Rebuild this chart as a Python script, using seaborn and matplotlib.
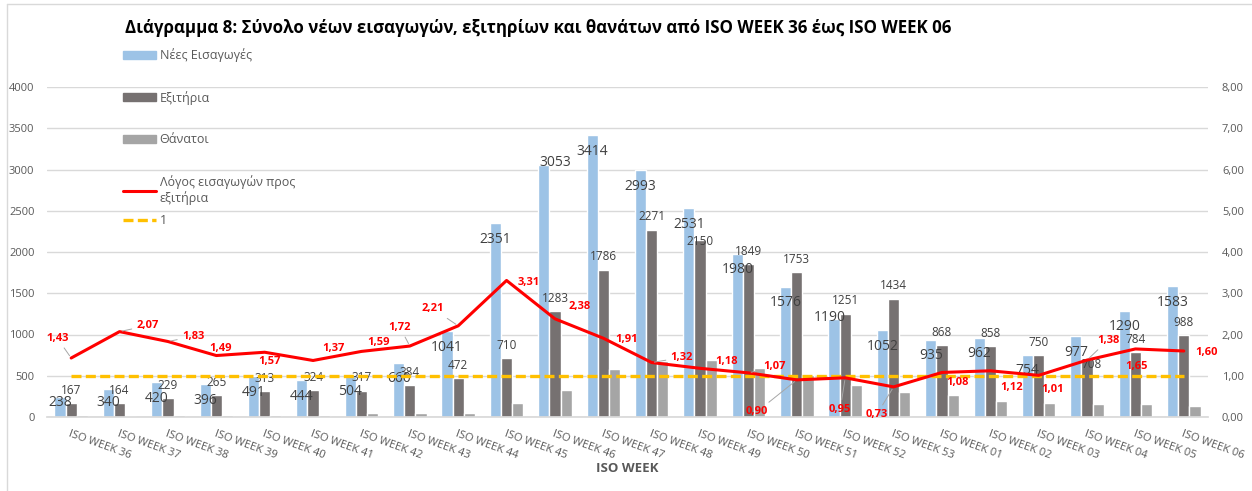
import numpy as np
import pandas as pd
import matplotlib

matplotlib.use("Agg")
import matplotlib.pyplot as plt
import seaborn as sns
from matplotlib.lines import Line2D
from matplotlib.patches import Patch
from matplotlib.ticker import FuncFormatter, MultipleLocator

# Data
weeks = [
    "ISO WEEK 36", "ISO WEEK 37", "ISO WEEK 38", "ISO WEEK 39", "ISO WEEK 40",
    "ISO WEEK 41", "ISO WEEK 42", "ISO WEEK 43", "ISO WEEK 44", "ISO WEEK 45",
    "ISO WEEK 46", "ISO WEEK 47", "ISO WEEK 48", "ISO WEEK 49", "ISO WEEK 50",
    "ISO WEEK 51", "ISO WEEK 52", "ISO WEEK 53", "ISO WEEK 01", "ISO WEEK 02",
    "ISO WEEK 03", "ISO WEEK 04", "ISO WEEK 05", "ISO WEEK 06",
]
admissions = [238, 340, 420, 396, 491, 444, 504, 660, 1041, 2351, 3053, 3414,
              2993, 2531, 1980, 1576, 1190, 1052, 935, 962, 754, 977, 1290, 1583]
discharges = [167, 164, 229, 265, 313, 324, 317, 384, 472, 710, 1283, 1786,
              2271, 2150, 1849, 1753, 1251, 1434, 868, 858, 750, 708, 784, 988]
deaths = [20, 10, 30, 30, 20, 30, 50, 50, 50, 170, 330, 585,
          680, 695, 600, 505, 385, 305, 270, 190, 170, 155, 155, 135]
ratio = [1.43, 2.07, 1.83, 1.49, 1.57, 1.37, 1.59, 1.72, 2.21, 3.31, 2.38, 1.91,
         1.32, 1.18, 1.07, 0.90, 0.95, 0.73, 1.08, 1.12, 1.01, 1.38, 1.65, 1.60]
ref_level = [1.0] * len(weeks)

series_names = ["Νέες Εισαγωγές", "Εξιτήρια", "Θάνατοι"]
ratio_name = "Λόγος εισαγωγών προς\nεξιτήρια"
ref_name = "1"

# label offsets (pixels) for the ratio labels, and which ones get a leader line
ratio_offsets = [(-14, 20), (28, 6), (25, 5), (4, 7), (5, -9), (20, 12), (17, 9),
                 (-10, 19), (-25, 17), (22, -2), (25, 12), (23, -1), (30, 5),
                 (26, 7), (26, 6), (-40, -32), (-5, -32), (-17, -28), (16, -10),
                 (21, -17), (14, -14), (21, 20), (1, -18), (23, -1)]
ratio_leaders = {0, 1, 2, 7, 8, 12, 14, 15, 16, 17, 21}

colors = ["#9DC3E6", "#767171", "#A5A5A5"]
text_gray = "#595959"
grid_gray = "#D9D9D9"

sns.set_theme(style="white")
plt.rcParams["font.family"] = ["Open Sans", "DejaVu Sans"]

df = pd.DataFrame({
    "week": weeks * 3,
    "series": [series_names[0]] * len(weeks) + [series_names[1]] * len(weeks)
    + [series_names[2]] * len(weeks),
    "value": admissions + discharges + deaths,
})

fig = plt.figure(figsize=(12.52, 4.91), dpi=100)
ax = fig.add_axes([47 / 1252, 74 / 491, 1161 / 1252, 330 / 491])

sns.barplot(data=df, x="week", y="value", hue="series", palette=colors,
            width=0.69, saturation=1, legend=False, ax=ax)

ax.set_xlim(-0.5, len(weeks) - 0.5)
ax.set_ylim(0, 4000)
ax.yaxis.set_major_locator(MultipleLocator(500))
ax.yaxis.grid(True, color=grid_gray, linewidth=1)
ax.set_axisbelow(True)
for s in ["left", "right", "top"]:
    ax.spines[s].set_visible(False)
ax.spines["bottom"].set_color(grid_gray)
ax.tick_params(axis="y", length=0, pad=9, labelsize=8, labelcolor=text_gray)
ax.tick_params(axis="x", length=0, pad=8, labelsize=8, labelcolor=text_gray)
ax.set_xticks(range(len(weeks)))
ax.set_xticklabels(weeks, rotation=-20, ha="left", va="top", rotation_mode="anchor")
ax.set_ylabel("")
ax.set_xlabel("ISO WEEK", fontsize=9.5, fontweight="bold", color=text_gray, labelpad=1)

# bar value labels
adm_bars, dis_bars, _ = ax.containers
adm_special = {10: (11, 3), 16: (-4, 1)}
for i, (bar, v) in enumerate(zip(adm_bars, admissions)):
    xc = bar.get_x() + bar.get_width() / 2
    dx, dy = adm_special.get(i, (0, -16))
    y = v
    if i not in adm_special and v - 195 < 170:
        y, dy = 170, 0
    ax.annotate(str(v), (xc, y), xytext=(dx, dy), textcoords="offset pixels",
                ha="center", va="center", fontsize=10, color="#404040")

dis_special = {13: (0, -2), 21: (5, -6)}
for i, (bar, v) in enumerate(zip(dis_bars, discharges)):
    xc = bar.get_x() + bar.get_width() / 2
    dx, dy = dis_special.get(i, (0, 13))
    ax.annotate(str(v), (xc, v), xytext=(dx, dy), textcoords="offset pixels",
                ha="center", va="center", fontsize=8.5, color="#404040")

# secondary axis: ratio + reference line
ax2 = ax.twinx()
idx = np.arange(len(weeks))
sns.lineplot(x=idx, y=ref_level, ax=ax2, color="#FFC000", linewidth=2.4,
             linestyle=(0, (3, 1.3)))
sns.lineplot(x=idx, y=ratio, ax=ax2, color="#FF0000", linewidth=2.2)
ax2.set_ylim(0, 8)
ax2.set_xlim(-0.5, len(weeks) - 0.5)
ax2.yaxis.set_major_locator(MultipleLocator(1))
ax2.yaxis.set_major_formatter(FuncFormatter(lambda v, p: f"{v:.2f}".replace(".", ",")))
for s in ["left", "right", "top", "bottom"]:
    ax2.spines[s].set_visible(False)
ax2.tick_params(axis="y", length=0, pad=10, labelsize=8, labelcolor=text_gray)

for i, v in enumerate(ratio):
    dx, dy = ratio_offsets[i]
    arrow = None
    if i in ratio_leaders:
        arrow = dict(arrowstyle="-", color="#A6A6A6", lw=0.7, shrinkA=1, shrinkB=2)
    ax2.annotate(f"{v:.2f}".replace(".", ","), (i, v), xytext=(dx, dy),
                 textcoords="offset pixels", ha="center", va="center",
                 fontsize=8, fontweight="bold", color="#FF0000", arrowprops=arrow)

# legend: bar entries, then line entries
bar_handles = [Patch(color=c) for c in colors]
line_handles = [
    Line2D([], [], color="#FF0000", linewidth=2.2),
    Line2D([], [], color="#FFC000", linewidth=2.4, linestyle=(0, (3, 1.3))),
]
leg_kw = dict(loc="upper left", frameon=False, fontsize=9, labelcolor=text_gray,
              handlelength=2.6, handleheight=0.6, handletextpad=0.3)
fig.legend(bar_handles, series_names, bbox_to_anchor=(112 / 1252, 1 - 37 / 491),
           labelspacing=2.3, **leg_kw)
fig.legend(line_handles, [ratio_name, ref_name], bbox_to_anchor=(112 / 1252, 1 - 164 / 491),
           labelspacing=0.7, **leg_kw)

fig.text(125 / 1252, 1 - 28 / 491,
         "Διάγραμμα 8: Σύνολο νέων εισαγωγών, εξιτηρίων και θανάτων από ISO WEEK 36 έως ISO WEEK 06",
         ha="left", va="center", fontsize=12.2, fontweight="bold", color="black")

# chart frame
fig.add_artist(Line2D([7 / 1252, 7 / 1252], [0, 1 - 4 / 491], color=grid_gray, lw=1))
fig.add_artist(Line2D([7 / 1252, 1], [1 - 4 / 491, 1 - 4 / 491], color=grid_gray, lw=1))

fig.savefig("out.png", dpi=100)
